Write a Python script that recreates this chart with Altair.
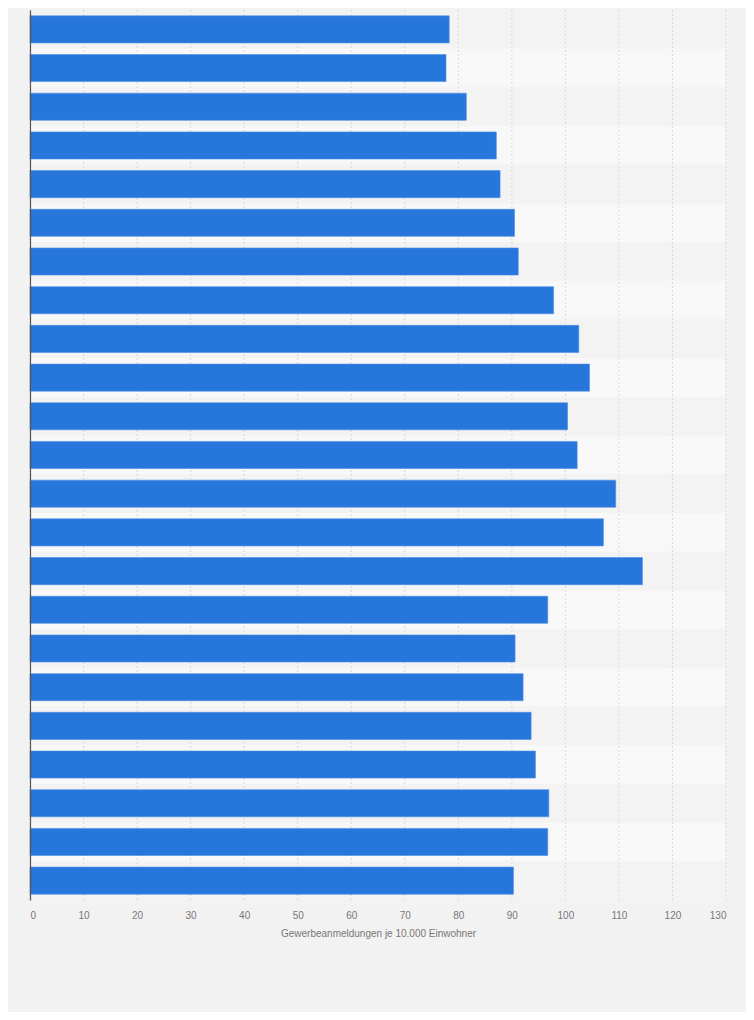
import altair as alt
import pandas as pd

categories = [str(y) for y in range(1996, 2019)]
values = [78.3, 77.7, 81.5, 87.1, 87.8, 90.5, 91.2, 97.8, 102.5, 104.5, 100.4, 102.2,
          109.4, 107.1, 114.4, 96.7, 90.6, 92.1, 93.6, 94.4, 96.9, 96.7, 90.3]
band_shades = ["#f3f3f3" if i % 2 == 0 else "#f8f8f8" for i in range(len(categories))]
x_ticks = list(range(0, 131, 10))
x_title = "Gewerbeanmeldungen je 10.000 Einwohner"

df = pd.DataFrame({"cat": categories, "val": values, "shade": band_shades})

yscale = alt.Scale(domain=categories, paddingInner=0, paddingOuter=0)
xscale = alt.Scale(domain=[0, 130], nice=False)

bands = alt.Chart(df).mark_rect().encode(
    y=alt.Y("cat:N", scale=yscale, sort=categories,
            axis=alt.Axis(labels=False, ticks=False, title=None, grid=False,
                          domain=True, domainColor="#555555", domainWidth=1.2)),
    x=alt.X(datum=0, scale=xscale),
    x2=alt.X2(datum=130),
    color=alt.Color("shade:N", scale=None),
)

grid = alt.Chart(pd.DataFrame({"t": x_ticks})).mark_rule(
    color="#d9d9d9", strokeDash=[2, 2], strokeWidth=1
).encode(x=alt.X("t:Q", scale=xscale))

bars = alt.Chart(df).mark_bar(
    color="#2776db", height=alt.RelativeBandSize(0.7),
    stroke="#4b8de3", strokeWidth=0.6
).encode(
    y=alt.Y("cat:N", scale=yscale, sort=categories),
    x=alt.X("val:Q", scale=xscale,
            axis=alt.Axis(values=x_ticks, title=x_title, grid=False, domain=False,
                          ticks=False, labelPadding=10, titlePadding=8,
                          labelColor="#777777", titleColor="#777777",
                          labelFontSize=10, titleFontSize=10,
                          titleFontWeight="normal", labelFont="Liberation Sans",
                          titleFont="Liberation Sans")),
)

chart = alt.layer(bands, grid, bars).properties(
    width=696, height=890,
    background="#f2f2f2",
    padding={"left": 22, "top": 2, "right": 20, "bottom": 112},
    autosize=alt.AutoSizeParams(type="none"),
).configure_view(stroke=None)

chart.save("out.html", embed_options={"renderer": "svg", "actions": False})
